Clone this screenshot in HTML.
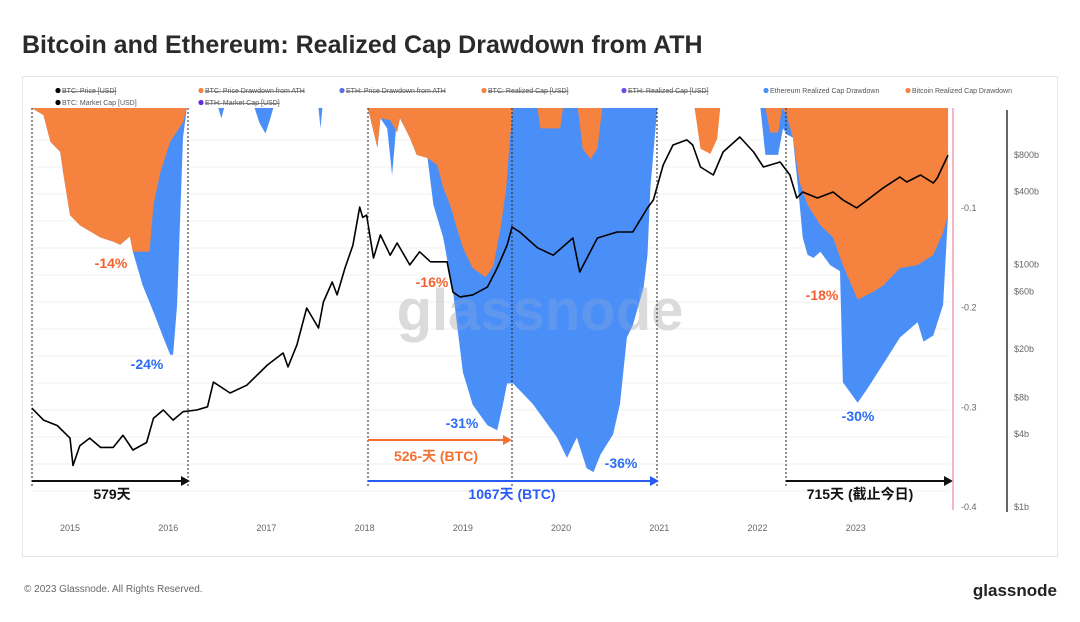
<!DOCTYPE html>
<html><head><meta charset="utf-8">
<style>
body{margin:0;background:#fff;font-family:"Liberation Sans","Noto Sans CJK SC",sans-serif;}
#wrap{position:relative;width:1080px;height:622px;overflow:hidden;background:#fff;}
</style></head>
<body>
<div id="wrap">
<svg id="chart" width="1080" height="622" viewBox="0 0 1080 622" xmlns="http://www.w3.org/2000/svg">
<text x="22" y="53" font-size="25" font-weight="600" fill="#2a2a2a" font-family="Liberation Sans, sans-serif">Bitcoin and Ethereum: Realized Cap Drawdown from ATH</text>
<rect x="22.5" y="76.5" width="1035" height="480" fill="none" stroke="#e6e6e6"/>
<g id="legend" font-size="7" fill="#555"></g>
<g id="grid"></g>
<text x="540" y="330" font-size="58" fill="#e2e2e2" text-anchor="middle" font-weight="600">glassnode</text>
<g id="areas"></g>
<g id="lines"></g>
<g id="annot"></g>
<g id="axes" font-size="9" fill="#666"></g>
<text x="24" y="592" font-size="10" fill="#666">© 2023 Glassnode. All Rights Reserved.</text>
<text x="1057" y="596" font-size="17" fill="#222" text-anchor="end" font-weight="600">glassnode</text>
</svg>
</div>
<script>
// ---- data ----
const btcDdDates=[2014.61,2014.73,2014.80,2014.90,2014.93,2015.00,2015.10,2015.31,2015.44,2015.51,2015.61,2015.64,2015.81,2015.85,2015.92,2016.02,2016.15,2016.19,2018.03,2018.05,2018.13,2018.16,2018.26,2018.33,2018.36,2018.46,2018.53,2018.64,2018.74,2018.80,2018.87,2018.94,2019.00,2019.10,2019.23,2019.31,2019.38,2019.44,2019.48,2019.51,2019.76,2019.79,2019.99,2020.02,2020.17,2020.22,2020.30,2020.37,2020.42,2021.36,2021.42,2021.52,2021.59,2021.62,2022.08,2022.13,2022.21,2022.25,2022.29,2022.36,2022.43,2022.51,2022.64,2022.77,2022.87,2023.02,2023.18,2023.28,2023.45,2023.63,2023.79,2023.89,2023.94];
const btcDd=[0,-0.7,-3.3,-4.3,-6.3,-10.5,-11.5,-12.7,-13.1,-13.4,-12.6,-14.1,-14.1,-9.5,-6.3,-3.3,-1.4,0,0,-0.7,-3.9,-1,-1.2,-2.4,-1,-2.9,-4.6,-4.9,-5.6,-7.8,-9.5,-11.8,-13.7,-15.7,-16.6,-15.5,-12,-8,-3,0,0,-2,-2,0,0,-4,-5,-4,0,0,-4,-4.5,-3,0,0,-2.4,-2.4,0,-0.5,-2.9,-7.3,-9.5,-11.5,-12.7,-15.4,-18.8,-18,-17.4,-15.7,-15.4,-14.4,-12.2,-10.5];
const ethDdDates=[2014.61,2014.73,2014.80,2014.90,2014.93,2015.00,2015.10,2015.31,2015.44,2015.51,2015.61,2015.64,2015.74,2015.85,2015.95,2016.02,2016.05,2016.09,2016.12,2016.15,2016.19,2016.51,2016.54,2016.57,2016.88,2016.93,2016.99,2017.04,2017.07,2017.53,2017.55,2017.57,2018.03,2018.05,2018.13,2018.16,2018.23,2018.28,2018.32,2018.36,2018.46,2018.53,2018.64,2018.70,2018.80,2018.90,2019.00,2019.10,2019.25,2019.35,2019.41,2019.45,2019.51,2019.71,2019.96,2020.06,2020.16,2020.26,2020.33,2020.40,2020.53,2020.60,2020.67,2020.73,2020.84,2020.88,2020.91,2020.98,2021.36,2021.42,2021.45,2022.03,2022.08,2022.21,2022.26,2022.30,2022.36,2022.43,2022.46,2022.51,2022.57,2022.64,2022.74,2022.84,2022.87,2023.02,2023.12,2023.32,2023.45,2023.63,2023.69,2023.79,2023.89,2023.94];
const ethDd=[0,-0.7,-3.3,-4.3,-6.3,-10.5,-11.5,-12.7,-13.1,-13.4,-12.6,-14.1,-17.4,-20,-22.5,-24.2,-24.2,-19.3,-11.2,-2.9,0,0,-1,0,0,-1.5,-2.5,-1,0,0,-2,0,0,-0.7,-3.9,-1,-2,-6.6,-2,-1,-2.9,-4.6,-4.9,-9.5,-12.7,-18,-25.9,-29.1,-31.1,-31.6,-29,-27,-27,-29,-32.3,-34.3,-32.3,-35.3,-35.7,-34,-32,-29,-22.5,-21.3,-17.6,-14.4,-7.8,0,0,-3,0,0,-4.6,-4.6,-2,-2.6,-2.9,-9.5,-12.7,-14.4,-14.7,-14.1,-15.4,-16,-26.9,-28.9,-27.5,-24.5,-22.5,-21,-22.9,-22.3,-19.3,-10.5];
const mcapDates=[2014.61,2014.73,2014.87,2015.00,2015.03,2015.10,2015.20,2015.31,2015.44,2015.54,2015.64,2015.78,2015.85,2015.95,2016.05,2016.15,2016.29,2016.40,2016.46,2016.63,2016.80,2017.01,2017.17,2017.22,2017.31,2017.41,2017.53,2017.58,2017.67,2017.72,2017.80,2017.88,2017.95,2017.98,2018.02,2018.09,2018.16,2018.26,2018.33,2018.46,2018.56,2018.67,2018.84,2018.90,2018.97,2019.10,2019.25,2019.35,2019.45,2019.50,2019.58,2019.76,2019.92,2020.12,2020.19,2020.37,2020.57,2020.73,2020.88,2020.94,2021.04,2021.14,2021.28,2021.34,2021.42,2021.55,2021.65,2021.82,2021.96,2022.06,2022.23,2022.33,2022.40,2022.46,2022.61,2022.77,2022.87,2023.01,2023.12,2023.28,2023.45,2023.52,2023.66,2023.79,2023.83,2023.94];
const mcap=[6.55,5.2,4.7,3.7,2.2,3.2,3.7,3.1,3.1,3.9,2.95,3.4,5.4,6.3,5.2,6.1,6.3,6.7,10.7,8.7,10.1,14.8,18.6,14.3,21.7,43.7,29.9,49,71.6,56,93.4,144,297,244,255,113,175,119,150,99,127,105,105,59,54,56,65,93.4,144,203,185,137,119,165,86.5,165,185,185,292,340,660,964,1062,964,635,546,845,1122,845,635,698,546,353,395,353,395,340,292,340,427,525,478,546,469,515,795];
const yearTicks=[2015,2016,2017,2018,2019,2020,2021,2022,2023];
const ddTicks=[-0.1,-0.2,-0.3,-0.4];
const capTicks=[800,400,100,60,20,8,4,1];
const capTickLabels=["$800b","$400b","$100b","$60b","$20b","$8b","$4b","$1b"];

// ---- scales ----
const X0=32,X1=950,T0=2014.613,T1=2023.96;
function xs(t){return X0+(t-T0)/(T1-T0)*(X1-X0);}
function yDd(p){return 108-p*10.2;}
function yPx(v){return 108-v/0.4*399;}
function yCap(b){return 507-Math.log10(b)*121.3;}
const NS="http://www.w3.org/2000/svg";
function mk(tag,attrs,parent){const e=document.createElementNS(NS,tag);for(const k in attrs)e.setAttribute(k,attrs[k]);parent.appendChild(e);return e;}

const grid=document.getElementById('grid');
for(let i=0;i<14;i++){
  const l=mk('line',{x1:X0,x2:X1,y1:140+i*27,y2:140+i*27,stroke:'#f1f1f1','stroke-width':1},grid);
  
  
}

function area(dates,vals,color,name){
  let d=`M${xs(dates[0])},108`;
  dates.forEach((t,i)=>{d+=`L${xs(t).toFixed(1)},${yDd(vals[i]).toFixed(1)}`;});
  d+=`L${xs(dates[dates.length-1])},108Z`;
  const p=mk('path',{d:d,fill:color},document.getElementById('areas'));
  
  
}
area(ethDdDates,ethDd,'#4a8ff8','eth-realized-cap-drawdown');
area(btcDdDates,btcDd,'#f5823f','btc-realized-cap-drawdown');
const wm=mk('text',{x:540,y:330,'font-size':58,fill:'#bbbbbb','fill-opacity':0.18,'text-anchor':'middle','font-weight':600},document.getElementById('areas'));
wm.textContent='glassnode';



let ld='';
mcapDates.forEach((t,i)=>{ld+=(i?'L':'M')+xs(t).toFixed(1)+','+yCap(mcap[i]).toFixed(1);});
const line=mk('path',{d:ld,fill:'none',stroke:'#000','stroke-width':1.6,'stroke-linejoin':'round'},document.getElementById('lines'));



const ax=document.getElementById('axes');
yearTicks.forEach(y=>{
  const t=mk('text',{x:xs(y),y:531,'text-anchor':'middle'},ax);t.textContent=y;
  
  
});
ddTicks.forEach(v=>{
  const t=mk('text',{x:961,y:yPx(v)+3},ax);t.textContent=v;
  
  
});
capTicks.forEach((v,i)=>{
  const t=mk('text',{x:1014,y:yCap(v)+3},ax);t.textContent=capTickLabels[i];
  
  
});
const pink=mk('line',{x1:953,x2:953,y1:108,y2:510,stroke:'#f4a0b5','stroke-width':1.5},ax);


const blk=mk('line',{x1:1007,x2:1007,y1:110,y2:512,stroke:'#333','stroke-width':1.5},ax);



const lg=document.getElementById('legend');
const legItems=[[62,93,'BTC: Price [USD]','#000',1],[205,93,'BTC: Price Drawdown from ATH','#f5823f',1],[346,93,'ETH: Price Drawdown from ATH','#5a6fe0',1],[488,93,'BTC: Realized Cap [USD]','#f5823f',1],[628,93,'ETH: Realized Cap [USD]','#7048e8',1],[770,93,'Ethereum Realized Cap Drawdown','#4a8ff8',0],[912,93,'Bitcoin Realized Cap Drawdown','#f5823f',0],[62,105,'BTC: Market Cap [USD]','#000',0],[205,105,'ETH: Market Cap [USD]','#6a2be0',1]];
legItems.forEach(it=>{
  const c=mk('circle',{cx:it[0]-4,cy:it[1]-2.5,r:2.6,fill:it[3]},lg);
  
  
  const t=mk('text',{x:it[0],y:it[1],'text-decoration':it[4]?'line-through':'none'},lg);t.textContent=it[2];
  
  
});

const an=document.getElementById('annot');
[32,188,368,512,657,786].forEach(x=>{
  const l=mk('line',{x1:x,x2:x,y1:108,y2:488,stroke:'#222','stroke-width':1,'stroke-dasharray':'2,2'},an);
  
  
});
function arrow(x1,x2,y,c,name){
  const l=mk('line',{x1:x1,x2:x2-8,y1:y,y2:y,stroke:c,'stroke-width':2},an);
  
  
  const p=mk('polygon',{points:`${x2-9},${y-5} ${x2},${y} ${x2-9},${y+5}`,fill:c},an);
  
  
}
arrow(32,190,481,'#111','arrow-579');
arrow(368,512,440,'#f5702f','arrow-526');
arrow(368,659,481,'#2a5cf5','arrow-1067');
arrow(786,953,481,'#111','arrow-715');
function lab(x,y,s,c,name){
  const t=mk('text',{x:x,y:y,'font-size':14,'font-weight':'bold',fill:c,'text-anchor':'middle'},an);t.textContent=s;
  
  
}
lab(112,499,'579天','#111','label-579-days');
lab(436,461,'526-天 (BTC)','#f5702f','label-526-days');
lab(512,499,'1067天 (BTC)','#2a5cf5','label-1067-days');
lab(860,499,'715天 (截止今日)','#111','label-715-days');
lab(111,268,'-14%','#f5602f','label-btc-14');
lab(147,369,'-24%','#2a6cf5','label-eth-24');
lab(432,287,'-16%','#f5602f','label-btc-16');
lab(462,428,'-31%','#2a6cf5','label-eth-31');
lab(621,468,'-36%','#2a6cf5','label-eth-36');
lab(822,300,'-18%','#f5602f','label-btc-18');
lab(858,421,'-30%','#2a6cf5','label-eth-30');
</script>
</body></html>
